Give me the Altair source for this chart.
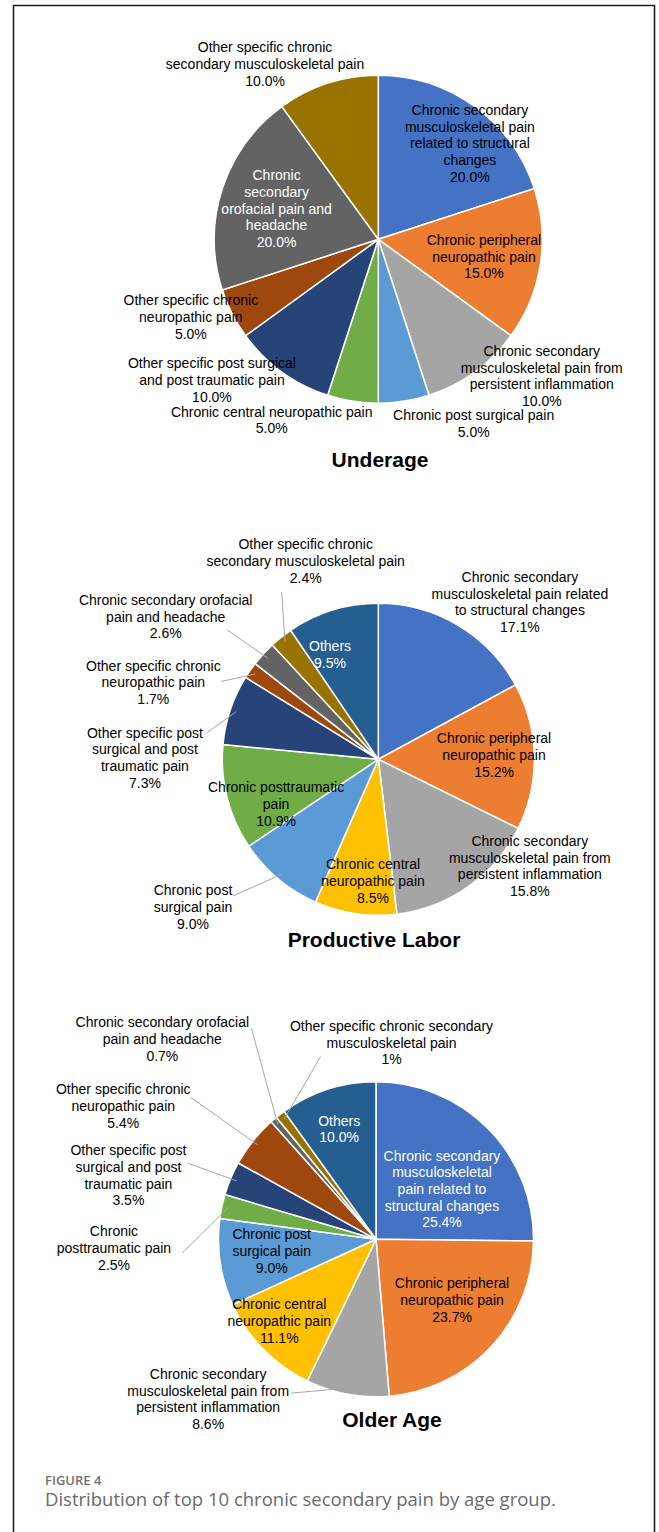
import math
import altair as alt
import pandas as pd

# ---------------- data ----------------
UNDERAGE_CATS = [
    "Chronic secondary musculoskeletal pain related to structural changes",
    "Chronic peripheral neuropathic pain",
    "Chronic secondary musculoskeletal pain from persistent inflammation",
    "Chronic post surgical pain",
    "Chronic central neuropathic pain",
    "Other specific post surgical and post traumatic pain",
    "Other specific chronic neuropathic pain",
    "Chronic secondary orofacial pain and headache",
    "Other specific chronic secondary musculoskeletal pain",
]
UNDERAGE_VALS = [20.0, 15.0, 10.0, 5.0, 5.0, 10.0, 5.0, 20.0, 10.0]
UNDERAGE_TEXT = [
    "Chronic secondary\nmusculoskeletal pain\nrelated to structural\nchanges\n20.0%",
    "Chronic peripheral\nneuropathic pain\n15.0%",
    "Chronic secondary\nmusculoskeletal pain from\npersistent inflammation\n10.0%",
    "Chronic post surgical pain\n5.0%",
    "Chronic central neuropathic pain\n5.0%",
    "Other specific post surgical\nand post traumatic pain\n10.0%",
    "Other specific chronic\nneuropathic pain\n5.0%",
    "Chronic\nsecondary\norofacial pain and\nheadache\n20.0%",
    "Other specific chronic\nsecondary musculoskeletal pain\n10.0%",
]

PRODUCTIVE_CATS = [
    "Chronic secondary musculoskeletal pain related to structural changes",
    "Chronic peripheral neuropathic pain",
    "Chronic secondary musculoskeletal pain from persistent inflammation",
    "Chronic central neuropathic pain",
    "Chronic post surgical pain",
    "Chronic posttraumatic pain",
    "Other specific post surgical and post traumatic pain",
    "Other specific chronic neuropathic pain",
    "Chronic secondary orofacial pain and headache",
    "Other specific chronic secondary musculoskeletal pain",
    "Others",
]
PRODUCTIVE_VALS = [17.1, 15.2, 15.8, 8.5, 9.0, 10.9, 7.3, 1.7, 2.6, 2.4, 9.5]
PRODUCTIVE_TEXT = [
    "Chronic secondary\nmusculoskeletal pain related\nto structural changes\n17.1%",
    "Chronic peripheral\nneuropathic pain\n15.2%",
    "Chronic secondary\nmusculoskeletal pain from\npersistent inflammation\n15.8%",
    "Chronic central\nneuropathic pain\n8.5%",
    "Chronic post\nsurgical pain\n9.0%",
    "Chronic posttraumatic\npain\n10.9%",
    "Other specific post\nsurgical and post\ntraumatic pain\n7.3%",
    "Other specific chronic\nneuropathic pain\n1.7%",
    "Chronic secondary orofacial\npain and headache\n2.6%",
    "Other specific chronic\nsecondary musculoskeletal pain\n2.4%",
    "Others\n9.5%",
]

OLDER_CATS = PRODUCTIVE_CATS
OLDER_VALS = [25.4, 23.7, 8.6, 11.1, 9.0, 2.5, 3.5, 5.4, 0.7, 1.0, 10.0]
OLDER_TEXT = [
    "Chronic secondary\nmusculoskeletal\npain related to\nstructural changes\n25.4%",
    "Chronic peripheral\nneuropathic pain\n23.7%",
    "Chronic secondary\nmusculoskeletal pain from\npersistent inflammation\n8.6%",
    "Chronic central\nneuropathic pain\n11.1%",
    "Chronic post\nsurgical pain\n9.0%",
    "Chronic\nposttraumatic pain\n2.5%",
    "Other specific post\nsurgical and post\ntraumatic pain\n3.5%",
    "Other specific chronic\nneuropathic pain\n5.4%",
    "Chronic secondary orofacial\npain and headache\n0.7%",
    "Other specific chronic secondary\nmusculoskeletal pain\n1%",
    "Others\n10.0%",
]

TITLES = ["Underage", "Productive Labor", "Older Age"]
CAPTION_HEAD = "FIGURE 4"
CAPTION = "Distribution of top 10 chronic secondary pain by age group."

# ---------------- styles / layout ----------------
BLUE, ORANGE, GRAY, GOLD = "#4472C4", "#ED7D31", "#A5A5A5", "#FFC000"
LBLUE, GREEN, DBLUE, BROWN = "#5B9BD5", "#70AD47", "#264478", "#9E480E"
DGRAY, OLIVE, OTHERS = "#636363", "#997300", "#255E91"

UNDERAGE_COLORS = [BLUE, ORANGE, GRAY, LBLUE, GREEN, DBLUE, BROWN, DGRAY, OLIVE]
FULL_COLORS = [BLUE, ORANGE, GRAY, GOLD, LBLUE, GREEN, DBLUE, BROWN, DGRAY, OLIVE, OTHERS]

K, W = "#000000", "#FFFFFF"
# (label radius factor, angle shift from slice mid in deg, text colour, leader start offset)
UNDERAGE_LAYOUT = [
    (0.804, 8.0, K, None), (0.654, 0.9, K, None), (1.303, -13.9, K, None),
    (1.272, -18.2, K, None), (1.285, 21.4, K, None), (1.332, 13.6, K, None),
    (1.240, 4.2, K, None), (0.646, -1.7, W, None), (1.268, -15.0, K, None),
]
PRODUCTIVE_LAYOUT = [
    (1.352, 11.4, K, None), (0.742, -0.5, K, None), (1.192, -19.3, K, None),
    (0.787, -6.0, K, None), (1.523, 11.3, K, (40, -12)), (0.718, -9.9, K, None),
    (1.496, -18.4, K, (62, -26)), (1.522, -16.1, K, (68, -2)),
    (1.638, -8.8, K, (61, 12)), (1.347, 18.3, K, (-24, 30)), (0.735, -7.8, W, None),
]
OLDER_LAYOUT = [
    (0.523, 7.9, W, None), (0.622, -3.8, K, None), (1.476, 35.7, K, (83, -7)),
    (0.808, 3.8, K, None), (0.667, 1.6, K, None), (1.665, -14.2, K, (68, 4)),
    (1.622, -8.5, K, (60, -13)), (1.811, -11.0, K, (67, -10)),
    (1.855, -6.5, K, (89, -12)), (1.246, 42.0, K, (-71, 13)), (0.732, -0.8, W, None),
]

FONT = "Liberation Sans"
LINE_H = 16.7
PIES = [
    # cats, vals, texts, colors, layout, centre x, centre y, radius, title x, title baseline
    (UNDERAGE_CATS, UNDERAGE_VALS, UNDERAGE_TEXT, UNDERAGE_COLORS, UNDERAGE_LAYOUT, 378.3, 239.3, 164, 380, 467),
    (PRODUCTIVE_CATS, PRODUCTIVE_VALS, PRODUCTIVE_TEXT, FULL_COLORS, PRODUCTIVE_LAYOUT, 378.3, 759.3, 156, 374, 947),
    (OLDER_CATS, OLDER_VALS, OLDER_TEXT, FULL_COLORS, OLDER_LAYOUT, 376.0, 1239.3, 157.5, 392, 1427),
]


def pie_layers(cats, vals, texts, colors, layout, cx, cy, r, title, tx, ty):
    total = sum(vals)
    rows, lead = [], []
    cum = 0.0
    for i, (c, v, t, col, lay) in enumerate(zip(cats, vals, texts, colors, layout)):
        mid = (cum + v / 2.0) / total * 360.0
        cum += v
        f, da, tc, lo = lay
        a = math.radians(mid + da)
        lx = cx + f * r * math.sin(a)
        ly = cy - f * r * math.cos(a)
        nlines = t.count("\n") + 1
        rows.append(dict(idx=i, cat=c, val=v, col=col, text=t, lx=lx,
                         ly=ly - (nlines - 1) * LINE_H / 2.0, tc=tc))
        if lo is not None:
            m = math.radians(mid)
            lead.append(dict(x1=lx + lo[0], y1=ly + lo[1],
                             x2=cx + 0.96 * r * math.sin(m), y2=cy - 0.96 * r * math.cos(m)))
    df = pd.DataFrame(rows)
    arcs = alt.Chart(df).mark_arc(radius=r, stroke="white", strokeWidth=1.5).encode(
        theta=alt.Theta("val:Q", stack=True),
        order=alt.Order("idx:Q"),
        color=alt.Color("col:N", scale=None),
        x=alt.value(cx),
        y=alt.value(cy),
    )
    labels = alt.Chart(df).mark_text(
        align="center", baseline="middle", lineBreak="\n", fontSize=14,
        font=FONT, lineHeight=LINE_H,
    ).encode(
        x=alt.X("lx:Q", scale=None, axis=None),
        y=alt.Y("ly:Q", scale=None, axis=None),
        text="text:N",
        color=alt.Color("tc:N", scale=None),
    )
    layers = [arcs]
    if lead:
        ldf = pd.DataFrame(lead)
        layers.append(alt.Chart(ldf).mark_rule(color="#A6A6A6", strokeWidth=1).encode(
            x=alt.X("x1:Q", scale=None, axis=None),
            y=alt.Y("y1:Q", scale=None, axis=None),
            x2="x2:Q", y2="y2:Q",
        ))
    layers.append(labels)
    layers.append(alt.Chart(pd.DataFrame({"t": [title]})).mark_text(
        align="center", baseline="alphabetic", fontSize=21, fontWeight="bold", font=FONT, color="#000000",
    ).encode(text="t:N", x=alt.value(tx), y=alt.value(ty)))
    return layers


all_layers = []
border = alt.Chart(pd.DataFrame({"a": [0]})).mark_rect(
    filled=False, stroke="#1e1e1e", strokeWidth=1.6
).encode(x=alt.value(13.5), x2=alt.value(654.5), y=alt.value(5.5), y2=alt.value(1560))
all_layers.append(border)

for (cats, vals, texts, colors, layout, cx, cy, r, tx, ty), title in zip(PIES, TITLES):
    all_layers += pie_layers(cats, vals, texts, colors, layout, cx, cy, r, title, tx, ty)

head = alt.Chart(pd.DataFrame({"t": [CAPTION_HEAD]})).mark_text(
    align="left", baseline="alphabetic", fontSize=13, font="Open Sans", fontWeight=600, color="#707070"
).encode(text="t:N", x=alt.value(45), y=alt.value(1485))
cap = alt.Chart(pd.DataFrame({"t": [CAPTION]})).mark_text(
    align="left", baseline="alphabetic", fontSize=18.5, font="Open Sans", color="#6a6a6a"
).encode(text="t:N", x=alt.value(45), y=alt.value(1506))
all_layers += [head, cap]

chart = alt.layer(*all_layers).resolve_scale(theta="independent").properties(
    width=659, height=1532, autosize=alt.AutoSizeParams(type="none"), padding=0,
    background="white",
).configure_view(strokeWidth=0)

chart.save("out.html", embed_options={"renderer": "svg", "actions": False})
